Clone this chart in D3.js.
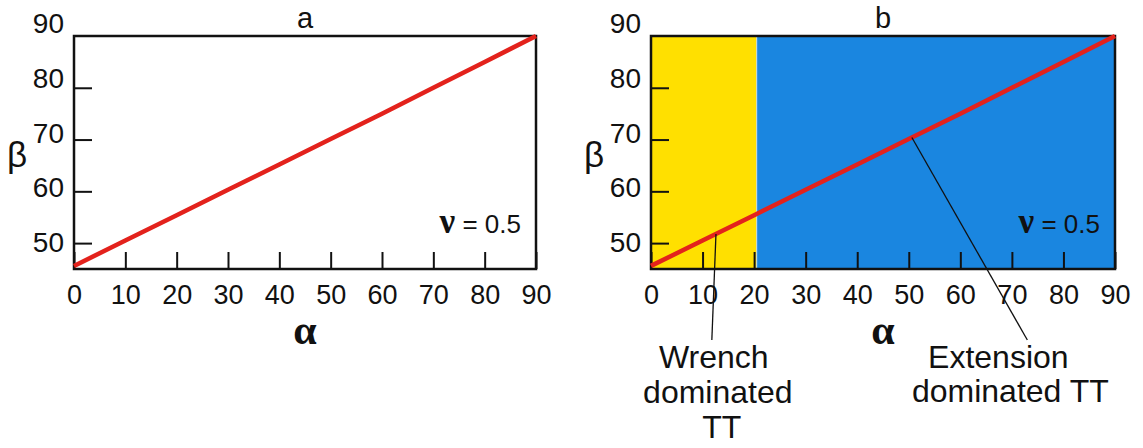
<!DOCTYPE html>
<html><head><meta charset="utf-8">
<script src="https://cdn.jsdelivr.net/npm/d3@7"></script>
<style>
body{margin:0;background:#fff;}
text{font-family:"Liberation Sans",Arial,sans-serif;fill:#111;}
</style></head>
<body><svg id="c" width="1143" height="448"></svg>
<script>
// ---- data ----
const panelTitles = ["a", "b"];
const alphaValues = [0, 10, 20, 30, 40, 50, 60, 70, 80, 90];
const betaValues  = [45.6, 50.5, 55.4, 60.3, 65.2, 70.1, 75.0, 80.0, 85.0, 90.0];
const xTickLabels = [0, 10, 20, 30, 40, 50, 60, 70, 80, 90];
const yTickLabels = [50, 60, 70, 80, 90];
const regionNames = ["Wrench dominated TT", "Extension dominated TT"];
const regionStart = [0, 20.5];
const regionEnd   = [20.5, 90];
const regionColors = ["#ffe000", "#1a86e0"];
const leaderAlphaOnLine = [12.6, 50.6];
const leaderAlphaEnd    = [11.8, 73.0];
const nuLabel = "0.5";

const svg = d3.select("#c");
const panels = [
  {left: 74, right: 536, shaded: false},
  {left: 651, right: 1115, shaded: true}
];
const plotTop = 36, plotBottom = 269;

panels.forEach((p, pi) => {
  const x = d3.scaleLinear().domain([0, 90]).range([p.left, p.right]);
  const y = d3.scaleLinear().domain([45, 90]).range([plotBottom, plotTop]);
  const g = svg.append("g");

  if (p.shaded) {
    g.selectAll("rect.reg").data(regionNames).enter().append("rect")
      .attr("x", (d, i) => x(regionStart[i]))
      .attr("y", y(90))
      .attr("width", (d, i) => x(regionEnd[i]) - x(regionStart[i]))
      .attr("height", y(45) - y(90))
      .attr("fill", (d, i) => regionColors[i]);
    g.append("line").attr("x1", x(regionEnd[0])).attr("x2", x(regionEnd[0]))
      .attr("y1", y(90)).attr("y2", y(45))
      .attr("stroke", "#cfe0d8").attr("stroke-width", 1);
  }

  // x axis ticks (inward)
  const xa = g.append("g").attr("transform", `translate(0,${plotBottom})`)
    .call(d3.axisBottom(x).tickValues(xTickLabels).tickSizeInner(-17).tickSizeOuter(0).tickPadding(16));
  xa.select(".domain").remove();
  xa.selectAll(".tick line").attr("stroke", "#111").attr("stroke-width", 2);
  xa.selectAll(".tick text").style("font-size", "27px").attr("fill", "#111")
    .style("font-family", "Liberation Sans, Arial, sans-serif");

  // y axis ticks (inward), labels drawn separately
  const ya = g.append("g").attr("transform", `translate(${p.left},0)`)
    .call(d3.axisLeft(y).tickValues(yTickLabels.filter(v => v < 90)).tickSizeInner(-18).tickSizeOuter(0).tickFormat(""));
  ya.select(".domain").remove();
  ya.selectAll(".tick line").attr("stroke", "#111").attr("stroke-width", 2);

  g.selectAll("text.yl").data(yTickLabels).enter().append("text")
    .attr("class", "yl")
    .attr("x", p.left - 10)
    .attr("y", v => y(v) - 1 - 12 * (v - 50) / 40)
    .attr("dy", "0.36em")
    .attr("text-anchor", "end")
    .style("font-size", "28px")
    .text(v => v);

  // frame
  g.append("rect").attr("x", p.left).attr("y", plotTop)
    .attr("width", p.right - p.left).attr("height", plotBottom - plotTop)
    .attr("fill", "none").attr("stroke", "#111").attr("stroke-width", 2.5);

  // red line
  const line = d3.line().x((d, i) => x(alphaValues[i])).y(d => y(d));
  g.append("path").datum(betaValues).attr("d", line)
    .attr("fill", "none").attr("stroke", "#e3221c").attr("stroke-width", 4.5);

  // title
  g.append("text").attr("x", (p.left + p.right) / 2).attr("y", 28)
    .attr("text-anchor", "middle").style("font-size", "29px").text(panelTitles[pi]);

  // axis names
  g.append("text").attr("x", p.left - 57).attr("y", 167)
    .attr("text-anchor", "middle").style("font-size", "35px").text("β");
  g.append("text").attr("x", x(45)).attr("y", 344)
    .attr("text-anchor", "middle")
    .style("font-family", "Liberation Serif, Times New Roman, serif")
    .style("font-weight", "bold").style("font-size", "42px").text("α");

  // nu label
  const nu = g.append("text").attr("x", p.right - 15).attr("y", 233)
    .attr("text-anchor", "end").style("font-size", "26px");
  nu.append("tspan").style("font-family", "Liberation Serif, Times New Roman, serif")
    .style("font-weight", "bold").style("font-size", "35px").text("ν");
  nu.append("tspan").text(" = " + nuLabel);

  // annotations
  if (p.shaded) {
    const interp = d3.scaleLinear().domain(alphaValues).range(betaValues);
    regionNames.forEach((name, i) => {
      const a0 = leaderAlphaOnLine[i];
      g.append("line")
        .attr("x1", x(a0)).attr("y1", y(interp(a0)))
        .attr("x2", x(leaderAlphaEnd[i])).attr("y2", 340)
        .attr("stroke", "#111").attr("stroke-width", 1.3);
    });
    const lines0 = ["Wrench", "dominated", "TT"];
    const t0 = g.append("text").attr("text-anchor", "middle").style("font-size", "32px");
    lines0.forEach((s, k) => t0.append("tspan").attr("x", x(leaderAlphaEnd[0]) + 2 + k * 4)
      .attr("y", 368 + k * 35).text(s));
    const lines1 = ["Extension", "dominated TT"];
    const t1 = g.append("text").attr("text-anchor", "middle").style("font-size", "32px");
    lines1.forEach((s, k) => t1.append("tspan").attr("x", x(leaderAlphaEnd[1]) - 29 + k * 12)
      .attr("y", 368 + k * 34).text(s));
  }
});
</script></body></html>
